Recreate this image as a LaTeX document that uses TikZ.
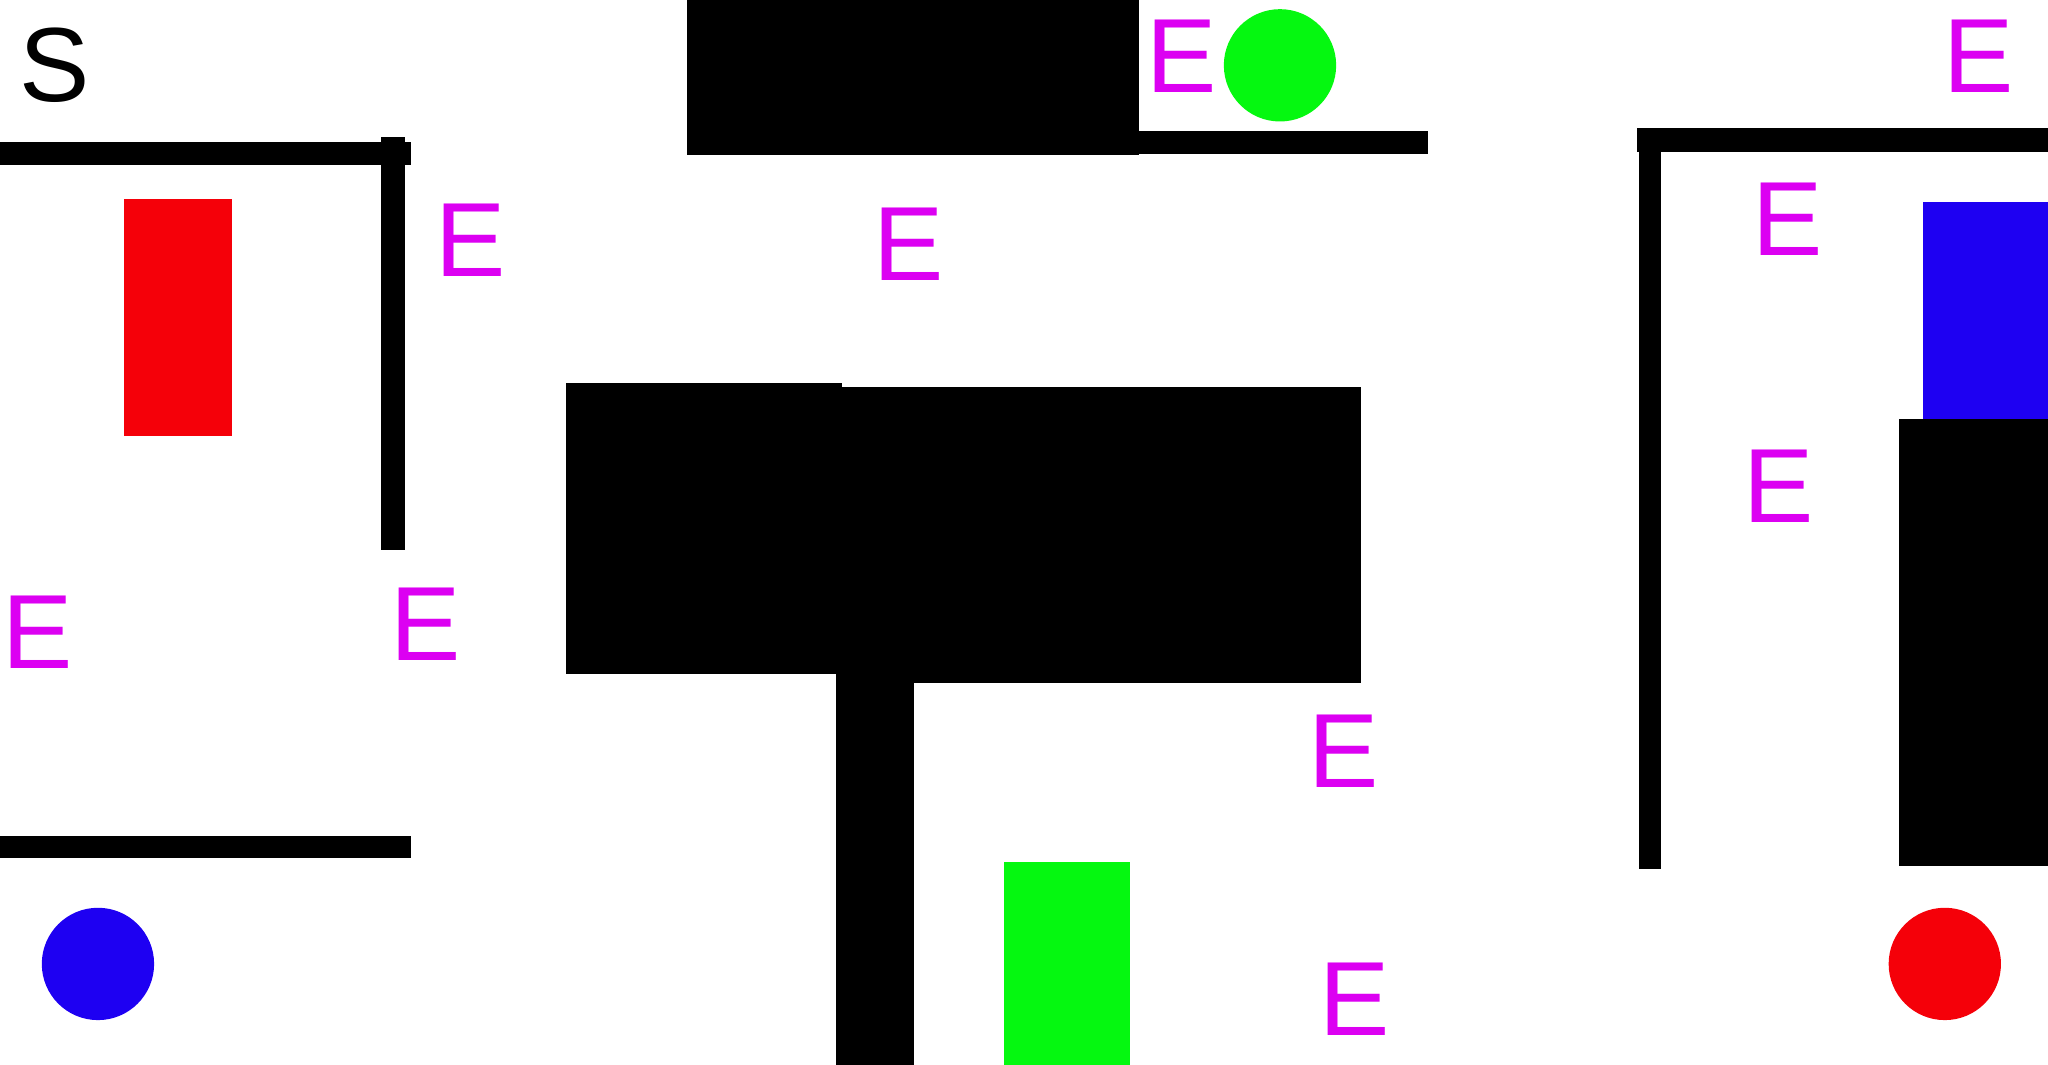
\documentclass[tikz,border=0pt]{standalone}
\usepackage{fontspec}
\setmainfont{Liberation Sans}
\definecolor{markred}{RGB}{245,0,9}
\definecolor{markgreen}{RGB}{5,248,16}
\definecolor{markblue}{RGB}{30,0,242}
\definecolor{markmag}{RGB}{220,0,242}
\tikzset{
  letterE/.style={text=markmag, inner sep=0pt, font=\fontsize{30}{32}\selectfont},
  letterS/.style={text=black, inner sep=0pt, font=\fontsize{30}{32}\selectfont},
}
\begin{document}
\begin{tikzpicture}[x=0.013061cm,y=-0.013061cm]
\useasboundingbox (0,0) rectangle (1568,815);
% left part
\fill (0,109) rectangle (315,126);
\fill (292,105) rectangle (310,421);
\fill (0,640) rectangle (315,657);
\fill[markred] (95,152) rectangle (178,334);
\fill[markblue] (75,738) circle (43);
% middle part
\fill (526,0) rectangle (872,119);
\fill (872,100) rectangle (1093,118);
\fill[markgreen] (980,50) circle (43);
\fill (433,293) rectangle (645,516);
\fill (645,296) rectangle (1042,523);
\fill (640,516) rectangle (700,815);
\fill[markgreen] (769,660) rectangle (865,815);
% right part
\fill (1253,98) rectangle (1568,116);
\fill (1255,110) rectangle (1272,665);
\fill[markblue] (1472,155) rectangle (1568,321);
\fill (1454,321) rectangle (1568,663);
\fill[markred] (1489,738) circle (43);
% letters
\node[letterS] (s) at (42,50) {S};
\node[letterE] (e1) at (360,184) {E};
\node[letterE] (e2) at (696,187) {E};
\node[letterE] (e3) at (905,43) {E};
\node[letterE] (e4) at (29,484) {E};
\node[letterE] (e5) at (326,478) {E};
\node[letterE] (e6) at (1029,575) {E};
\node[letterE] (e7) at (1037,765) {E};
\node[letterE] (e8) at (1369,168) {E};
\node[letterE] (e9) at (1362,372) {E};
\node[letterE] (e10) at (1515,43) {E};
\end{tikzpicture}
\end{document}
